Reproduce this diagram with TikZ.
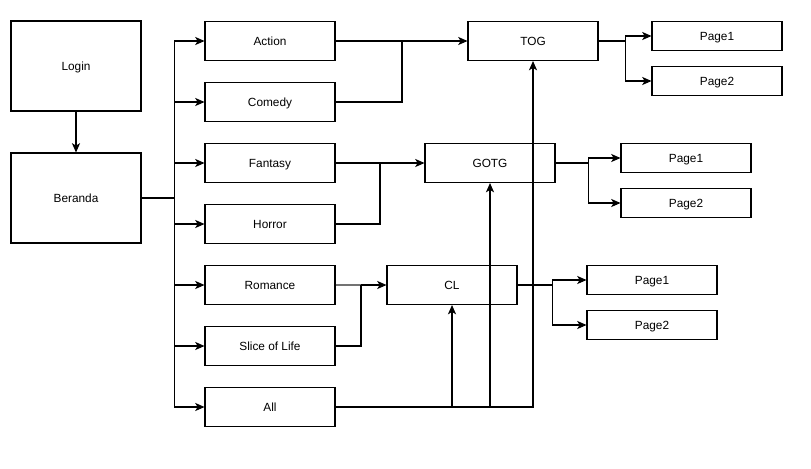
\documentclass[tikz,border=0pt]{standalone}
\usepackage{fontspec}
\setmainfont{Liberation Sans}
\usetikzlibrary{arrows.meta}

\begin{document}
\begin{tikzpicture}[x=0.03cm, y=-0.03cm, line width=0.9pt,
    kotak/.style={draw, line width=0.9pt, inner sep=0pt, minimum width=3.9cm, minimum height=1.17cm,
        text height=0.72em, text depth=0pt, font=\fontsize{10.1}{12}\selectfont},
    besar/.style={kotak, minimum height=2.7cm},
    halaman/.style={kotak, minimum height=0.87cm},
    panah/.style={-{Stealth[length=8pt, width=7pt, inset=2.2pt]}}]
    \useasboundingbox (0,0) rectangle (811,468);

    % Login dan beranda
    \node[besar] (login) at (76,66) {Login};
    \node[besar] (beranda) at (76,198) {Beranda};
    \draw[panah] (login) -- (beranda);

    % Genre
    \node[kotak] (action)  at (270,41)  {Action};
    \node[kotak] (comedy)  at (270,102) {Comedy};
    \node[kotak] (fantasy) at (270,163) {Fantasy};
    \node[kotak] (horror)  at (270,224) {Horror};
    \node[kotak] (romance) at (270,285) {Romance};
    \node[kotak] (slice)   at (270,346) {Slice of Life};
    \node[kotak] (all)     at (270,407) {All};

    \foreach \g in {action,comedy,fantasy,horror,romance,slice,all}
        \draw[panah] (beranda.east) -- ++(33,0) |- (\g.west);

    % Judul
    \node[kotak] (tog)  at (533,41)  {TOG};
    \node[kotak] (gotg) at (490,163) {GOTG};
    \node[kotak] (cl)   at (452,285) {CL};

    \coordinate (jA) at (402,41);
    \coordinate (jF) at (380,163);
    \coordinate (jR) at (361,285);

    \draw[panah] (action.east) -- (tog.west);
    \draw (comedy.east) -| (jA);
    \draw[panah] (fantasy.east) -- (gotg.west);
    \draw (horror.east) -| (jF);
    \draw[black!55, line width=1.3pt] (romance.east) -- (jR);
    \draw[panah] (jR) -- (cl.west);
    \draw (slice.east) -| (jR);

    % All ke semua judul
    \draw[panah] (all.east) -| (cl.south);
    \draw[panah] (all.east) -| (gotg.south);
    \draw[panah] (all.east) -| (tog.south);

    % Halaman
    \node[halaman] (tp1) at (717,36)  {Page1};
    \node[halaman] (tp2) at (717,81)  {Page2};
    \node[halaman] (gp1) at (686,158) {Page1};
    \node[halaman] (gp2) at (686,203) {Page2};
    \node[halaman] (cp1) at (652,280) {Page1};
    \node[halaman] (cp2) at (652,325) {Page2};

    \draw[panah] (tog.east) -- ++(27,0) |- (tp1.west);
    \draw[panah] (tog.east) -- ++(27,0) |- (tp2.west);
    \draw[panah] (gotg.east) -- ++(33,0) |- (gp1.west);
    \draw[panah] (gotg.east) -- ++(33,0) |- (gp2.west);
    \draw[panah] (cl.east) -- ++(35,0) |- (cp1.west);
    \draw[panah] (cl.east) -- ++(35,0) |- (cp2.west);

\end{tikzpicture}
\end{document}
